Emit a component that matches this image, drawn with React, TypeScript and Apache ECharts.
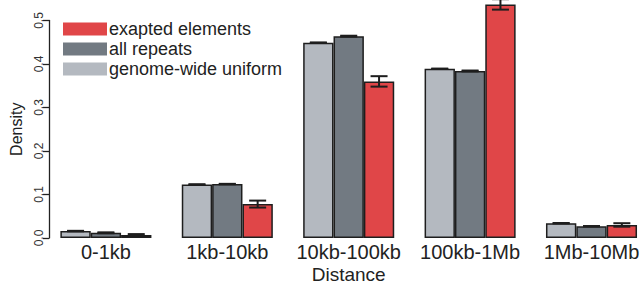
import React, { useEffect, useRef } from "react";
import * as echarts from "echarts";

const categories = ["0-1kb", "1kb-10kb", "10kb-100kb", "100kb-1Mb", "1Mb-10Mb"];
const seriesNames = ["genome-wide uniform", "all repeats", "exapted elements"];
const genomeValues = [0.016, 0.123, 0.449, 0.389, 0.034];
const repeatValues = [0.012, 0.124, 0.464, 0.384, 0.027];
const exaptedValues = [0.007, 0.078, 0.360, 0.537, 0.030];
const genomeErr = [0.0005, 0.0005, 0.0005, 0.0005, 0.0005];
const repeatErr = [0.001, 0.0005, 0.001, 0.001, 0.0005];
const exaptedErr = [0.002, 0.008, 0.012, 0.012, 0.004];
const yTicks = [0, 0.1, 0.2, 0.3, 0.4, 0.5];

const colors = ["#b4b9c0", "#727a82", "#e04648"];

export default function App() {
  const ref = useRef<HTMLDivElement>(null);
  useEffect(() => {
    if (!ref.current) return;
    const chart = echarts.init(ref.current, undefined, { renderer: "svg" });
    const values = [genomeValues, repeatValues, exaptedValues];
    const errs = [genomeErr, repeatErr, exaptedErr];
    const errData: number[][] = [];
    values.forEach((vals, s) => {
      vals.forEach((v, c) => errData.push([c, v, errs[s][c], s]));
    });
    const option: any = {
      animation: false,
      textStyle: { fontFamily: "Liberation Sans, Arial, sans-serif" },
      legend: {
        orient: "vertical",
        left: 63,
        top: 20,
        padding: 0,
        itemWidth: 44,
        itemHeight: 13,
        itemGap: 2,
        icon: "rect",
        itemStyle: { borderWidth: 0 },
        data: ["exapted elements", "all repeats", "genome-wide uniform"],
        textStyle: { fontSize: 18, lineHeight: 13, color: "#222", padding: [0, 0, 0, -3] },
      },
      grid: [
        { left: 49, top: 20.5, bottom: 47, width: 10, outerBoundsMode: "none" },
        { left: 45.2, right: -9.2, top: -1.25, bottom: 47, outerBoundsMode: "none" },
      ],
      xAxis: [
        { gridIndex: 0, type: "value", show: false },
        {
          gridIndex: 1,
          type: "category",
          data: categories,
          axisLine: { show: false },
          axisTick: { show: false },
          axisLabel: { fontSize: 20, color: "#222", margin: 4, interval: 0 },
          name: "Distance",
          nameLocation: "middle",
          nameGap: 27,
          nameMoveOverlap: false,
          nameTextStyle: { fontSize: 19, lineHeight: 18, color: "#222" },
        },
      ],
      yAxis: [
        {
          gridIndex: 0,
          type: "value",
          min: 0,
          max: 0.5,
          interval: 0.1,
          splitLine: { show: false },
          axisLine: { show: true, lineStyle: { color: "#222", width: 1.3 } },
          axisTick: { show: true, length: 6, lineStyle: { color: "#222", width: 1.3 } },
          axisLabel: {
            rotate: 90,
            fontSize: 12,
            color: "#333",
            margin: 4,
            formatter: (v: number) => {
              const t = yTicks.find((x) => Math.abs(x - v) < 1e-9);
              return t !== undefined ? t.toFixed(1) : "";
            },
          },
          name: "Density",
          nameLocation: "middle",
          nameRotate: 90,
          nameGap: 25,
          nameMoveOverlap: false,
          nameTextStyle: { fontSize: 16, color: "#222" },
        },
        { gridIndex: 1, type: "value", min: 0, max: 0.55, show: false },
      ],
      series: [
        ...seriesNames.map((name, i) => ({
          name,
          type: "bar",
          xAxisIndex: 1,
          yAxisIndex: 1,
          data: values[i],
          barWidth: "25%",
          barGap: "0%",
          itemStyle: { color: colors[i], borderColor: "#1e1e1e", borderWidth: 1.5 },
        })),
        {
          type: "custom",
          xAxisIndex: 1,
          yAxisIndex: 1,
          z: 5,
          data: errData,
          renderItem: (params: any, api: any) => {
            const c = api.value(0);
            const v = api.value(1);
            const e = api.value(2);
            const s = api.value(3);
            const band = api.size([1, 0])[0];
            const p = api.coord([c, v]);
            const x = p[0] + (s - 1) * band * 0.25;
            const yT = api.coord([c, v + e])[1];
            const yB = api.coord([c, v - e])[1];
            const hw = 8.5;
            const st = { stroke: "#1e1e1e", lineWidth: 2 };
            return {
              type: "group",
              children: [
                { type: "line", shape: { x1: x, y1: yT, x2: x, y2: yB }, style: st },
                { type: "line", shape: { x1: x - hw, y1: yT, x2: x + hw, y2: yT }, style: st },
                { type: "line", shape: { x1: x - hw, y1: yB, x2: x + hw, y2: yB }, style: st },
              ],
            };
          },
        },
      ],
    };
    chart.setOption(option);
    return () => chart.dispose();
  }, []);
  return (
    <div
      ref={ref}
      style={{ position: "fixed", left: 0, top: 0, width: 643, height: 285, background: "#fff" }}
    />
  );
}
